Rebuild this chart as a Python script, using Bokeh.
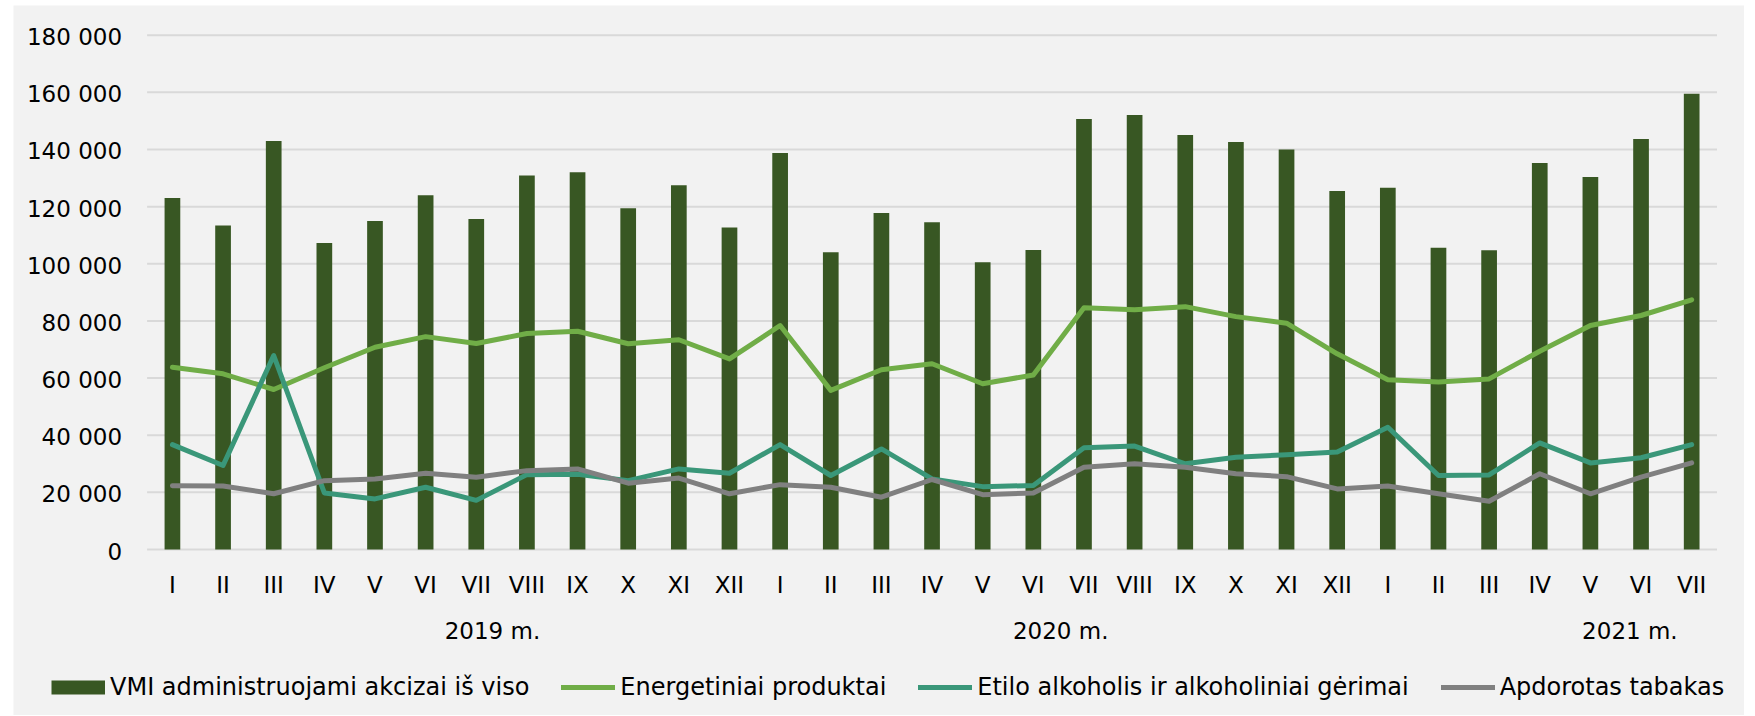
from bokeh.plotting import figure
from bokeh.models import ColumnDataSource, Range1d, Legend, LegendItem
from bokeh.core.properties import value
from bokeh.embed import file_html
from bokeh.resources import INLINE

# ---- data ----
months = ["I", "II", "III", "IV", "V", "VI", "VII", "VIII", "IX", "X", "XI", "XII",
          "I", "II", "III", "IV", "V", "VI", "VII", "VIII", "IX", "X", "XI", "XII",
          "I", "II", "III", "IV", "V", "VI", "VII"]
years = ["2019 m.", "2020 m.", "2021 m."]
total = [123000, 113400, 143000, 107300, 115000, 124000, 115700, 130900, 132000, 119400,
         127500, 112700, 138800, 104000, 117800, 114500, 100500, 104800, 150700, 152100,
         145100, 142600, 140000, 125500, 126600, 105600, 104700, 135300, 130400, 143700, 159500]
energy = [63800, 61500, 56000, 63600, 70800, 74500, 72100, 75600, 76400, 72000, 73400,
          66700, 78400, 55700, 62900, 65000, 58000, 61100, 84600, 83900, 85000, 81500,
          79200, 68500, 59400, 58600, 59700, 69400, 78400, 81900, 87400]
alcohol = [36700, 29400, 67900, 19800, 17700, 21800, 17200, 26200, 26300, 24100, 28200,
           26700, 36700, 25900, 35200, 24700, 22000, 22400, 35600, 36200, 30000, 32300,
           33200, 34100, 42800, 25900, 26100, 37300, 30300, 32100, 36700]
tobacco = [22300, 22200, 19500, 24100, 24700, 26700, 25300, 27600, 28200, 23200, 25000,
           19500, 22700, 21800, 18300, 24500, 19200, 19800, 28800, 30000, 28800, 26500,
           25500, 21200, 22200, 19500, 16900, 26500, 19500, 25300, 30300]
y_ticks = [0, 20000, 40000, 60000, 80000, 100000, 120000, 140000, 160000, 180000]
y_tick_labels = ["0", "20 000", "40 000", "60 000", "80 000", "100 000", "120 000",
                 "140 000", "160 000", "180 000"]
series_names = ["VMI administruojami akcizai iš viso", "Energetiniai produktai",
                "Etilo alkoholis ir alkoholiniai gėrimai", "Apdorotas tabakas"]

# ---- layout / style ----
FONT = value("DejaVu Sans")
FS = value("23px")
BG = "#F2F2F2"
C_BAR, C_EN, C_AL, C_TO, C_GRID = "#385723", "#70AD47", "#3A9779", "#808080", "#D9D9D9"
W, H = 1731, 710                      # figure size (px)
PL, PR, PT, PB = 133.6, 1703.5, 29.7, 544.0   # plot-area edges inside the figure (px)
year_label_x = [6.82, 18.04, 29.28]   # positions of year captions, in category units

n = len(months)
ymax = y_ticks[-1]
ux = n / (PR - PL)
uy = ymax / (PB - PT)
xs = [i + 0.5 for i in range(n)]
src = ColumnDataSource(dict(x=xs, total=total, energy=energy, alcohol=alcohol,
                            tobacco=tobacco, month=months))

p = figure(width=W, height=H, output_backend="svg", toolbar_location=None,
           x_range=Range1d(-PL * ux, n + (W - PR) * ux),
           y_range=Range1d(-(H - PB) * uy, ymax + PT * uy),
           x_axis_location=None, y_axis_location=None, min_border=0)
p.styles = {"margin-left": "13px", "margin-top": "5px"}
p.background_fill_color = BG
p.border_fill_color = BG
p.outline_line_color = None
p.grid.visible = False

# horizontal grid lines at the value ticks, spanning the category range
p.segment(x0=0, x1=n, y0=y_ticks, y1=y_ticks, line_color=C_GRID, line_width=2)

bars = p.vbar(x="x", top="total", width=0.31, source=src, fill_color=C_BAR, line_color=None)
l1 = p.line(x="x", y="energy", source=src, line_color=C_EN, line_width=5,
            line_join="round", line_cap="round")
l2 = p.line(x="x", y="alcohol", source=src, line_color=C_AL, line_width=5,
            line_join="round", line_cap="round")
l3 = p.line(x="x", y="tobacco", source=src, line_color=C_TO, line_width=5,
            line_join="round", line_cap="round")
# legend swatch for the bars: a thick band (no visible data)
bar_swatch = p.line(x=[float("nan")], y=[float("nan")], line_color=C_BAR, line_width=14,
                    line_cap="butt")

# value-axis labels
p.text(x=0, y=y_ticks, text=y_tick_labels, x_offset=-25, y_offset=2,
       text_align="right", text_baseline="middle", text_font=FONT,
       text_font_size=FS, text_color="#000000")
# month labels
p.text(x="x", y=0, text="month", source=src, y_offset=35,
       text_align="center", text_baseline="middle", text_font=FONT,
       text_font_size=FS, text_color="#000000")
# year labels
p.text(x=year_label_x, y=0, text=years, y_offset=81,
       text_align="center", text_baseline="middle", text_font=FONT,
       text_font_size=FS, text_color="#000000")

legend = Legend(items=[LegendItem(label=series_names[0], renderers=[bar_swatch]),
                       LegendItem(label=series_names[1], renderers=[l1]),
                       LegendItem(label=series_names[2], renderers=[l2]),
                       LegendItem(label=series_names[3], renderers=[l3])],
                location=(38, 14), orientation="horizontal",
                glyph_width=54, glyph_height=28, label_standoff=5, spacing=32,
                padding=0, margin=0,
                border_line_color=None, background_fill_alpha=0,
                label_text_font="DejaVu Sans", label_text_font_size="24px",
                label_text_color="#000000")
p.add_layout(legend, "center")

open("out.html", "w").write(file_html(p, INLINE))
